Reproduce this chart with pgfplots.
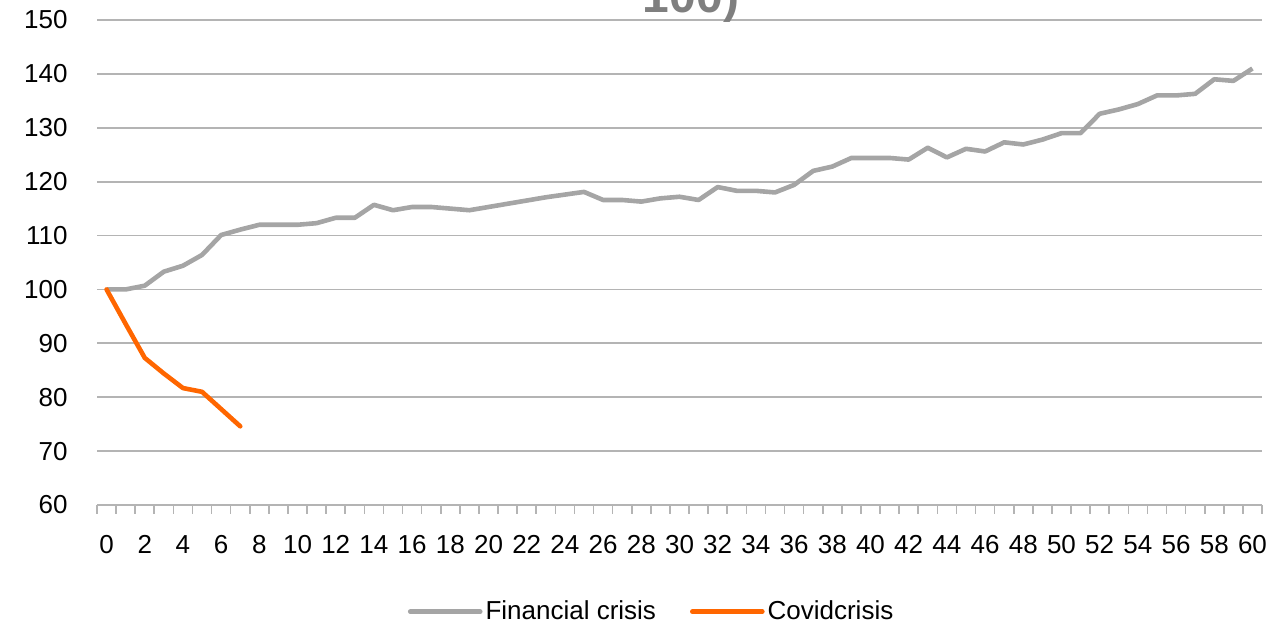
\documentclass[border=0pt]{standalone}
\usepackage{pgfplots}
\pgfplotsset{compat=1.18}
\usepackage{pgfplotstable}
\usepackage{fontspec}
\setmainfont{Liberation Sans}

\definecolor{fingray}{HTML}{A5A5A5}
\definecolor{covorange}{HTML}{FF6600}
\definecolor{gridgray}{HTML}{B4B4B4}
\definecolor{titlegray}{HTML}{7F7F7F}

% Index levels by month since the start of each crisis (start = 100)
\pgfplotstableread{
m   v
0   100.0
1   100.0
2   100.7
3   103.3
4   104.4
5   106.4
6   110.1
7   111.1
8   112.0
9   112.0
10  112.0
11  112.3
12  113.3
13  113.3
14  115.7
15  114.7
16  115.3
17  115.3
18  115.0
19  114.7
20  115.3
21  115.9
22  116.5
23  117.1
24  117.6
25  118.1
26  116.6
27  116.6
28  116.3
29  116.9
30  117.2
31  116.6
32  119.0
33  118.3
34  118.3
35  118.0
36  119.4
37  122.0
38  122.8
39  124.4
40  124.4
41  124.4
42  124.1
43  126.3
44  124.5
45  126.1
46  125.6
47  127.3
48  126.9
49  127.8
50  129.0
51  129.0
52  132.6
53  133.4
54  134.4
55  136.0
56  136.0
57  136.3
58  139.0
59  138.7
60  141.0
}\financial

\pgfplotstableread{
m   v
0   100.0
1   93.6
2   87.3
3   84.4
4   81.7
5   81.0
6   77.8
7   74.6
}\covid

\begin{document}
\begin{tikzpicture}
\begin{axis}[
  scale only axis,
  width=582.5pt, height=242.5pt,
  xmin=-0.5, xmax=60.5, ymin=60, ymax=150,
  ytick={60,70,...,150},
  xtick={0,2,...,60},
  minor xtick={-0.5,0.5,...,60.5},
  major tick length=0pt,
  minor tick length=4.5pt,
  tick align=outside,
  tick style={gridgray, line width=0.8pt},
  axis x line*=bottom,
  axis y line*=left,
  x axis line style={gridgray, line width=0.85pt},
  y axis line style={draw=none},
  ymajorgrids,
  grid style={gridgray, line width=0.85pt},
  /pgf/number format/assume math mode=true,
  ticklabel style={font=\fontsize{13}{15}\selectfont, text=black},
  y tick label style={anchor=east, inner sep=0pt, xshift=-14.5pt},
  x tick label style={anchor=north, inner sep=0pt, yshift=-15pt},
  legend style={at={(0.4765,-0.22)}, anchor=center, draw=none,
    font=\fontsize{13}{15}\selectfont,
    nodes={inner sep=1.5pt},
    /tikz/every even column/.append style={column sep=15.5pt}},
  legend columns=2,
  legend image code/.code={\draw[#1, line width=2.3pt, line cap=round] (0pt,0pt) -- (35pt,0pt);},
]
\addplot[fingray, line width=2.3pt, line join=round] table[x=m, y=v] {\financial};
\addlegendentry{Financial crisis}
\addplot[covorange, line width=2.3pt, line join=round, line cap=round] table[x=m, y=v] {\covid};
\addlegendentry{Covidcrisis}
\end{axis}
\node[font=\bfseries\fontsize{24}{28}\selectfont, text=titlegray, anchor=base] at (297pt,246pt) {100)};
\pgfresetboundingbox
\useasboundingbox (-48.5pt,-60pt) rectangle (587.5pt,252.5pt);
\end{tikzpicture}
\end{document}
